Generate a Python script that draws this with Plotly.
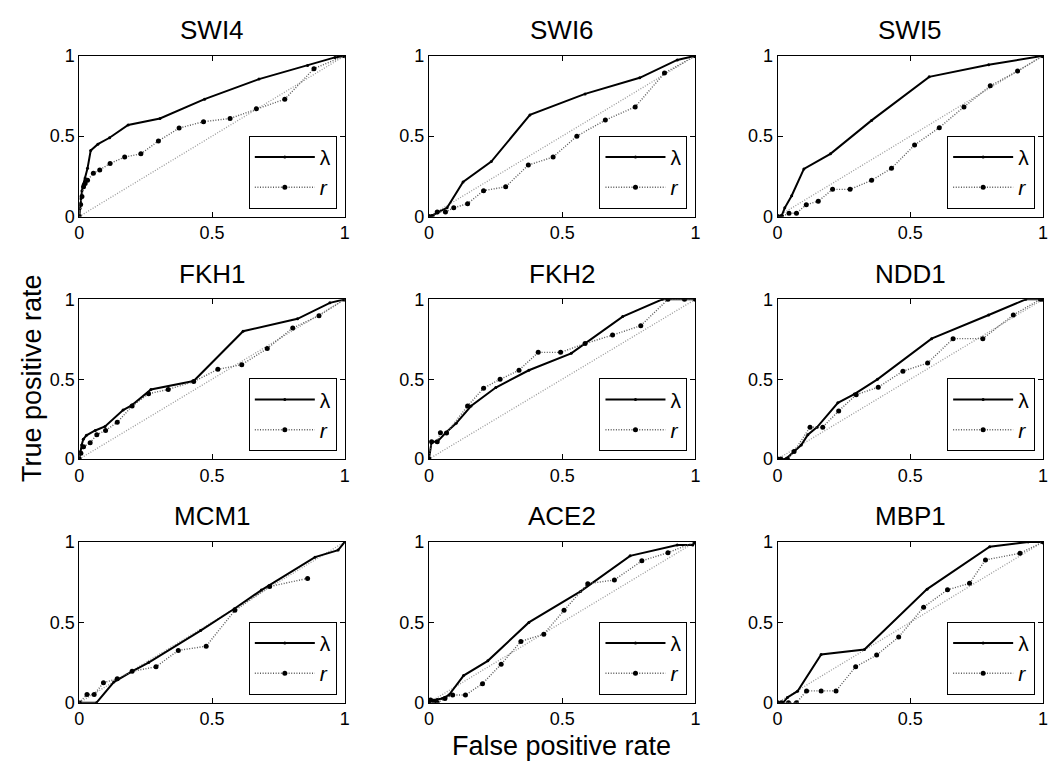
import plotly.graph_objects as go

# ROC curves for nine transcription factors: lambda score vs. correlation r
GENES = ["SWI4", "SWI6", "SWI5", "FKH1", "FKH2", "NDD1", "MCM1", "ACE2", "MBP1"]

SWI4_LAM_FPR = [0, 0.003, 0.006, 0.01, 0.015, 0.022, 0.031, 0.043, 0.07, 0.114, 0.184, 0.304, 0.472, 0.677, 0.86, 0.963, 1]
SWI4_LAM_TPR = [0, 0.05, 0.11, 0.16, 0.2, 0.24, 0.3, 0.41, 0.45, 0.49, 0.57, 0.61, 0.73, 0.855, 0.94, 0.99, 1]
SWI4_R_FPR = [0, 0.005, 0.01, 0.016, 0.022, 0.031, 0.053, 0.077, 0.116, 0.171, 0.232, 0.298, 0.376, 0.468, 0.568, 0.667, 0.774, 0.884, 1]
SWI4_R_TPR = [0, 0.075, 0.125, 0.185, 0.205, 0.225, 0.27, 0.29, 0.33, 0.37, 0.39, 0.47, 0.55, 0.59, 0.61, 0.67, 0.73, 0.92, 1]

SWI6_LAM_FPR = [0, 0.012, 0.031, 0.068, 0.128, 0.234, 0.379, 0.586, 0.791, 0.932, 1]
SWI6_LAM_TPR = [0, 0.004, 0.024, 0.054, 0.215, 0.342, 0.632, 0.763, 0.863, 0.974, 1]
SWI6_R_FPR = [0, 0.012, 0.031, 0.062, 0.093, 0.145, 0.205, 0.288, 0.373, 0.466, 0.555, 0.662, 0.774, 0.884, 1]
SWI6_R_TPR = [0, 0, 0.028, 0.028, 0.054, 0.08, 0.161, 0.185, 0.32, 0.37, 0.5, 0.6, 0.682, 0.893, 1]

SWI5_LAM_FPR = [0, 0.015, 0.027, 0.053, 0.099, 0.199, 0.354, 0.571, 0.795, 1]
SWI5_LAM_TPR = [0, 0.004, 0.054, 0.129, 0.296, 0.39, 0.598, 0.869, 0.944, 1]
SWI5_R_FPR = [0, 0.015, 0.043, 0.071, 0.108, 0.153, 0.207, 0.273, 0.354, 0.429, 0.516, 0.609, 0.702, 0.801, 0.904, 1]
SWI5_R_TPR = [0, 0, 0.02, 0.02, 0.074, 0.095, 0.169, 0.169, 0.225, 0.3, 0.445, 0.553, 0.682, 0.813, 0.905, 1]

FKH1_LAM_FPR = [0, 0.004, 0.009, 0.015, 0.027, 0.06, 0.097, 0.165, 0.199, 0.27, 0.431, 0.617, 0.822, 0.944, 1]
FKH1_LAM_TPR = [0, 0.047, 0.088, 0.124, 0.149, 0.179, 0.204, 0.307, 0.338, 0.436, 0.489, 0.8, 0.878, 0.978, 1]
FKH1_R_FPR = [0, 0.006, 0.016, 0.041, 0.066, 0.099, 0.143, 0.199, 0.261, 0.335, 0.431, 0.522, 0.612, 0.708, 0.804, 0.903, 1]
FKH1_R_TPR = [0, 0.037, 0.077, 0.102, 0.153, 0.179, 0.23, 0.332, 0.409, 0.436, 0.485, 0.562, 0.591, 0.692, 0.82, 0.898, 1]

FKH2_LAM_FPR = [0, 0.01, 0.031, 0.062, 0.102, 0.158, 0.251, 0.375, 0.534, 0.586, 0.727, 0.876, 1]
FKH2_LAM_TPR = [0, 0.108, 0.108, 0.163, 0.224, 0.332, 0.448, 0.556, 0.662, 0.723, 0.892, 1, 1]
FKH2_R_FPR = [0, 0.01, 0.031, 0.043, 0.066, 0.145, 0.205, 0.267, 0.338, 0.41, 0.494, 0.586, 0.689, 0.795, 0.897, 0.959, 1]
FKH2_R_TPR = [0, 0.108, 0.108, 0.165, 0.163, 0.332, 0.444, 0.499, 0.556, 0.668, 0.668, 0.723, 0.776, 0.835, 1, 1, 1]

NDD1_LAM_FPR = [0, 0.031, 0.062, 0.089, 0.114, 0.149, 0.227, 0.289, 0.376, 0.58, 0.795, 0.935, 1]
NDD1_LAM_TPR = [0, 0, 0.047, 0.088, 0.153, 0.2, 0.352, 0.407, 0.499, 0.754, 0.902, 1, 1]
NDD1_R_FPR = [0, 0.012, 0.037, 0.062, 0.122, 0.17, 0.23, 0.296, 0.379, 0.472, 0.565, 0.661, 0.773, 0.888, 0.99, 1]
NDD1_R_TPR = [0, 0, 0, 0.047, 0.2, 0.2, 0.301, 0.403, 0.45, 0.55, 0.601, 0.754, 0.754, 0.902, 1, 1]

MCM1_LAM_FPR = [0, 0.065, 0.13, 0.199, 0.261, 0.457, 0.584, 0.686, 0.888, 0.975, 1]
MCM1_LAM_TPR = [0, 0, 0.128, 0.195, 0.249, 0.448, 0.584, 0.7, 0.905, 0.949, 1]
MCM1_R_FPR = [0, 0.029, 0.056, 0.091, 0.143, 0.199, 0.289, 0.373, 0.478, 0.586, 0.717, 0.86]
MCM1_R_TPR = [0, 0.051, 0.051, 0.124, 0.148, 0.195, 0.223, 0.325, 0.351, 0.574, 0.722, 0.773]

ACE2_LAM_FPR = [0, 0.01, 0.031, 0.05, 0.075, 0.13, 0.221, 0.375, 0.569, 0.755, 0.932, 0.99, 1]
ACE2_LAM_TPR = [0, 0.016, 0.02, 0.026, 0.047, 0.168, 0.26, 0.499, 0.692, 0.913, 0.98, 0.98, 1]
ACE2_R_FPR = [0, 0.006, 0.019, 0.031, 0.06, 0.089, 0.137, 0.201, 0.271, 0.345, 0.431, 0.507, 0.596, 0.696, 0.799, 0.897, 1]
ACE2_R_TPR = [0, 0.016, 0.006, 0, 0.026, 0.047, 0.047, 0.118, 0.239, 0.381, 0.426, 0.574, 0.74, 0.763, 0.882, 0.933, 1]

MBP1_LAM_FPR = [0, 0.021, 0.037, 0.075, 0.164, 0.327, 0.563, 0.799, 0.944, 1]
MBP1_LAM_TPR = [0, 0, 0.032, 0.071, 0.3, 0.331, 0.706, 0.97, 1, 1]
MBP1_R_FPR = [0, 0.015, 0.041, 0.071, 0.109, 0.164, 0.22, 0.294, 0.373, 0.456, 0.55, 0.64, 0.723, 0.783, 0.913, 1]
MBP1_R_TPR = [0, 0, 0, 0, 0.073, 0.073, 0.073, 0.223, 0.296, 0.408, 0.594, 0.702, 0.742, 0.888, 0.929, 1]

CHANCE = [0, 1]
TICK_VALS = [0, 0.5, 1]
TICK_TEXT = ["0", "0.5", "1"]

CURVES = {
    "SWI4": (SWI4_LAM_FPR, SWI4_LAM_TPR, SWI4_R_FPR, SWI4_R_TPR),
    "SWI6": (SWI6_LAM_FPR, SWI6_LAM_TPR, SWI6_R_FPR, SWI6_R_TPR),
    "SWI5": (SWI5_LAM_FPR, SWI5_LAM_TPR, SWI5_R_FPR, SWI5_R_TPR),
    "FKH1": (FKH1_LAM_FPR, FKH1_LAM_TPR, FKH1_R_FPR, FKH1_R_TPR),
    "FKH2": (FKH2_LAM_FPR, FKH2_LAM_TPR, FKH2_R_FPR, FKH2_R_TPR),
    "NDD1": (NDD1_LAM_FPR, NDD1_LAM_TPR, NDD1_R_FPR, NDD1_R_TPR),
    "MCM1": (MCM1_LAM_FPR, MCM1_LAM_TPR, MCM1_R_FPR, MCM1_R_TPR),
    "ACE2": (ACE2_LAM_FPR, ACE2_LAM_TPR, ACE2_R_FPR, ACE2_R_TPR),
    "MBP1": (MBP1_LAM_FPR, MBP1_LAM_TPR, MBP1_R_FPR, MBP1_R_TPR),
}

W, H = 1056, 774
FONT = "Liberation Sans, Arial, Helvetica, sans-serif"

# pixel boxes of the panel plot areas
COL_PX = [(75, 343), (428, 697), (780, 1048)]
ROW_PX = [(47, 212), (297, 461), (546, 711)]

fig = go.Figure()
layout = dict(
    width=W, height=H,
    margin=dict(l=0, r=0, t=0, b=0),
    paper_bgcolor="white", plot_bgcolor="white",
    font=dict(family=FONT, color="black", size=18),
    showlegend=True,
)
annotations = []

for i, gene in enumerate(GENES):
    r_i, c_i = divmod(i, 3)
    x0p, x1p = COL_PX[c_i]
    y0p, y1p = ROW_PX[r_i]
    xd = [x0p / W, x1p / W]
    yd = [1 - y1p / H, 1 - y0p / H]
    n = "" if i == 0 else str(i + 1)
    xa, ya = "x" + n, "y" + n
    leg = "legend" + n
    lam_x, lam_y, r_x, r_y = CURVES[gene]

    # chance diagonal
    fig.add_trace(go.Scatter(
        x=CHANCE, y=CHANCE, xaxis=xa, yaxis=ya, mode="lines",
        line=dict(color="#9a9a9a", width=1.3, dash="1px,1.6px"),
        showlegend=False, hoverinfo="skip"))
    fig.add_trace(go.Scatter(
        x=lam_x, y=lam_y, xaxis=xa, yaxis=ya, mode="lines+markers",
        name="λ", legend=leg,
        line=dict(color="black", width=2),
        marker=dict(color="black", size=3)))
    fig.add_trace(go.Scatter(
        x=r_x, y=r_y, xaxis=xa, yaxis=ya, mode="lines+markers",
        name="<i>r</i>", legend=leg,
        line=dict(color="#5a5a5a", width=1.4, dash="1px,1.6px"),
        marker=dict(color="black", size=5)))

    axis_common = dict(
        range=[0, 1], tickvals=TICK_VALS, ticktext=TICK_TEXT,
        ticks="inside", ticklen=5, tickwidth=1, tickcolor="black",
        showline=True, linecolor="black", linewidth=1, mirror="ticks",
        showgrid=False, zeroline=False, fixedrange=True,
        tickfont=dict(size=18, family=FONT, color="black"),
    )
    layout["xaxis" + n] = dict(axis_common, domain=xd, anchor=ya)
    layout["yaxis" + n] = dict(axis_common, domain=yd, anchor=xa)

    layout[leg] = dict(
        x=(x1p - 8) / W, y=1 - (y1p - 8) / H,
        xanchor="right", yanchor="bottom",
        bgcolor="white", bordercolor="black", borderwidth=1,
        font=dict(family=FONT, size=21, color="black"),
        itemwidth=60, tracegroupgap=0,
    )

    annotations.append(dict(
        text=gene, x=(x0p + x1p) / 2 / W, y=1 - (y0p - 9) / H,
        xref="paper", yref="paper", xanchor="center", yanchor="bottom",
        showarrow=False, font=dict(family=FONT, size=26, color="black")))

annotations.append(dict(
    text="True positive rate", x=27 / W, y=1 - 378 / H,
    xref="paper", yref="paper", xanchor="center", yanchor="middle",
    textangle=-90, showarrow=False,
    font=dict(family=FONT, size=27, color="black")))
annotations.append(dict(
    text="False positive rate", x=562 / W, y=1 - 756 / H,
    xref="paper", yref="paper", xanchor="center", yanchor="middle",
    showarrow=False, font=dict(family=FONT, size=27, color="black")))

layout["annotations"] = annotations
fig.update_layout(**layout)
fig.write_html("out.html")
